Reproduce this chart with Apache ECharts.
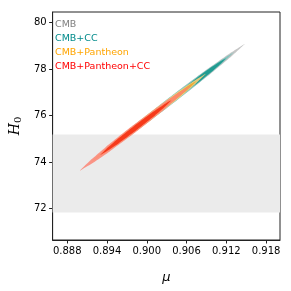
<!DOCTYPE html>
<html><head><meta charset="utf-8">
<script src="https://cdn.jsdelivr.net/npm/echarts@6/dist/echarts.min.js"></script>
<style>html,body{margin:0;padding:0;background:#fff}#c{width:291px;height:291px}</style>
</head><body><div id="c"></div>
<script>
// axis ticks
const xTicks = [0.888, 0.894, 0.900, 0.906, 0.912, 0.918];
const yTicks = [72, 74, 76, 78, 80];
const xRange = [0.8858, 0.9201];
const yRange = [70.64, 80.46];
// H0 band (lower, upper)
const bandH0 = [71.82, 75.18];

// contour outlines [mu, H0]
const cmb2 = [[0.893425,74.399],[0.895412,74.925],[0.898512,75.669],[0.903807,76.858],[0.909189,78.012],[0.912496,78.675],[0.914779,79.086],
  [0.912792,78.559],[0.909691,77.816],[0.904397,76.627],[0.899014,75.472],[0.895708,74.810]];
const cmb1 = [[0.900465,75.944],[0.901634,76.246],[0.903449,76.676],[0.906535,77.367],[0.909667,78.041],[0.911584,78.430],[0.912902,78.674],
  [0.911782,78.372],[0.909917,77.943],[0.906831,77.251],[0.903699,76.577],[0.901782,76.188]];
const cc2 = [[0.892252,74.141],[0.894186,74.660],[0.897212,75.390],[0.902387,76.554],[0.907654,77.682],[0.910894,78.327],[0.913136,78.725],
  [0.911202,78.207],[0.908176,77.477],[0.903001,76.313],[0.897734,75.185],[0.894494,74.540]];
const cc1 = [[0.903398,76.588],[0.904153,76.815],[0.905367,77.125],[0.907478,77.607],[0.909650,78.065],[0.911005,78.320],[0.911963,78.468],
  [0.911207,78.240],[0.909994,77.931],[0.907882,77.449],[0.905711,76.991],[0.904355,76.736]];
const pan2 = [[0.891665,74.012],[0.893242,74.449],[0.895726,75.057],[0.899994,76.021],[0.904350,76.950],[0.907040,77.478],[0.908912,77.798],
  [0.907336,77.362],[0.904852,76.754],[0.900584,75.790],[0.896228,74.861],[0.893538,74.333]];
const pan1 = [[0.896945,75.171],[0.897904,75.441],[0.899421,75.815],[0.902032,76.406],[0.904701,76.974],[0.906352,77.295],[0.907505,77.489],
  [0.906546,77.220],[0.905029,76.845],[0.902418,76.255],[0.899749,75.686],[0.898097,75.365]];
const all2 = [[0.889905,73.626],[0.891429,74.055],[0.893839,74.649],[0.897987,75.588],[0.902228,76.491],[0.904851,77.001],[0.906683,77.309],
  [0.905159,76.880],[0.902750,76.286],[0.898601,75.347],[0.894361,74.444],[0.891737,73.934]];
const all1 = [[0.892956,74.296],[0.893934,74.572],[0.895482,74.955],[0.898151,75.559],[0.900879,76.140],[0.902569,76.468],[0.903750,76.665],
  [0.902771,76.388],[0.901223,76.005],[0.898555,75.401],[0.895826,74.821],[0.894136,74.493]];

const names = ['CMB', 'CMB+CC', 'CMB+Pantheon', 'CMB+Pantheon+CC'];
const textColors = ['#808080', '#008b8b', '#ffa500', '#ff0000'];

function contourSeries(name, pts, color, z) {
  return {
    type: 'custom', name: name, z: z, silent: true,
    data: [[pts[0][0], pts[0][1]]],
    renderItem: function (params, api) {
      return {
        type: 'polygon',
        shape: { points: pts.map(p => api.coord(p)), smooth: 0.1 },
        style: { fill: color, opacity: 0.85 }
      };
    }
  };
}

const chart = echarts.init(document.getElementById('c'), null, { renderer: 'canvas' });
const font = 'DejaVu Sans';
chart.setOption({
  animation: false,
  backgroundColor: '#fff',
  grid: { left: 46, right: 11, top: 12, bottom: 51, show: true, borderColor: '#222', borderWidth: 1, backgroundColor: 'transparent' },
  legend: {
    show: true, orient: 'vertical', left: 50, top: 20, itemWidth: 0, itemHeight: 0, itemGap: 4,
    selectedMode: false, padding: 0,
    data: names.map((n, i) => ({ name: n, icon: 'none', textStyle: { color: textColors[i], fontSize: 9.5, fontFamily: font } }))
  },
  xAxis: {
    type: 'value', min: xRange[0], max: xRange[1],
    name: 'μ', nameLocation: 'middle', nameGap: 31,
    nameTextStyle: { fontFamily: font, fontStyle: 'italic', fontSize: 13, color: '#000' },
    axisLine: { show: true, lineStyle: { color: '#222', width: 1 } },
    axisTick: { show: true, length: 3.5, inside: false, customValues: xTicks, lineStyle: { color: '#222' } },
    axisLabel: { customValues: xTicks, margin: 6, fontFamily: font, fontSize: 10, color: '#000', formatter: v => v.toFixed(3) },
    splitLine: { show: false }
  },
  yAxis: {
    type: 'value', min: yRange[0], max: yRange[1],
    name: '{h|H}{s|0}', nameLocation: 'middle', nameGap: 26, nameRotate: 90,
    nameTextStyle: { rich: { h: { fontFamily: 'DejaVu Serif', fontStyle: 'italic', fontSize: 14, color: '#000' },
                             s: { fontFamily: 'DejaVu Serif', fontSize: 10, color: '#000', verticalAlign: 'bottom', padding: [6, 0, 0, 0] } } },
    axisLine: { show: true, lineStyle: { color: '#222', width: 1 } },
    axisTick: { show: true, length: 3.5, inside: false, customValues: yTicks, lineStyle: { color: '#222' } },
    axisLabel: { customValues: yTicks, margin: 6, fontFamily: font, fontSize: 10, color: '#000', formatter: v => String(v) },
    splitLine: { show: false }
  },
  series: [
    { type: 'line', data: [], z: 1, silent: true,
      markArea: { silent: true, itemStyle: { color: '#ebebeb' }, data: [[{ yAxis: bandH0[0] }, { yAxis: bandH0[1] }]] } },
    contourSeries(names[0], cmb2, '#bcbcbc', 2),
    contourSeries(names[0], cmb1, '#8a8a8a', 3),
    contourSeries(names[1], cc2, '#7ccbc4', 4),
    contourSeries(names[1], cc1, '#12948a', 5),
    contourSeries(names[2], pan2, '#ffd27a', 6),
    contourSeries(names[2], pan1, '#f6a21e', 7),
    contourSeries(names[3], all2, '#fb8576', 8),
    contourSeries(names[3], all1, '#f52a0a', 9)
  ]
});
</script></body></html>
